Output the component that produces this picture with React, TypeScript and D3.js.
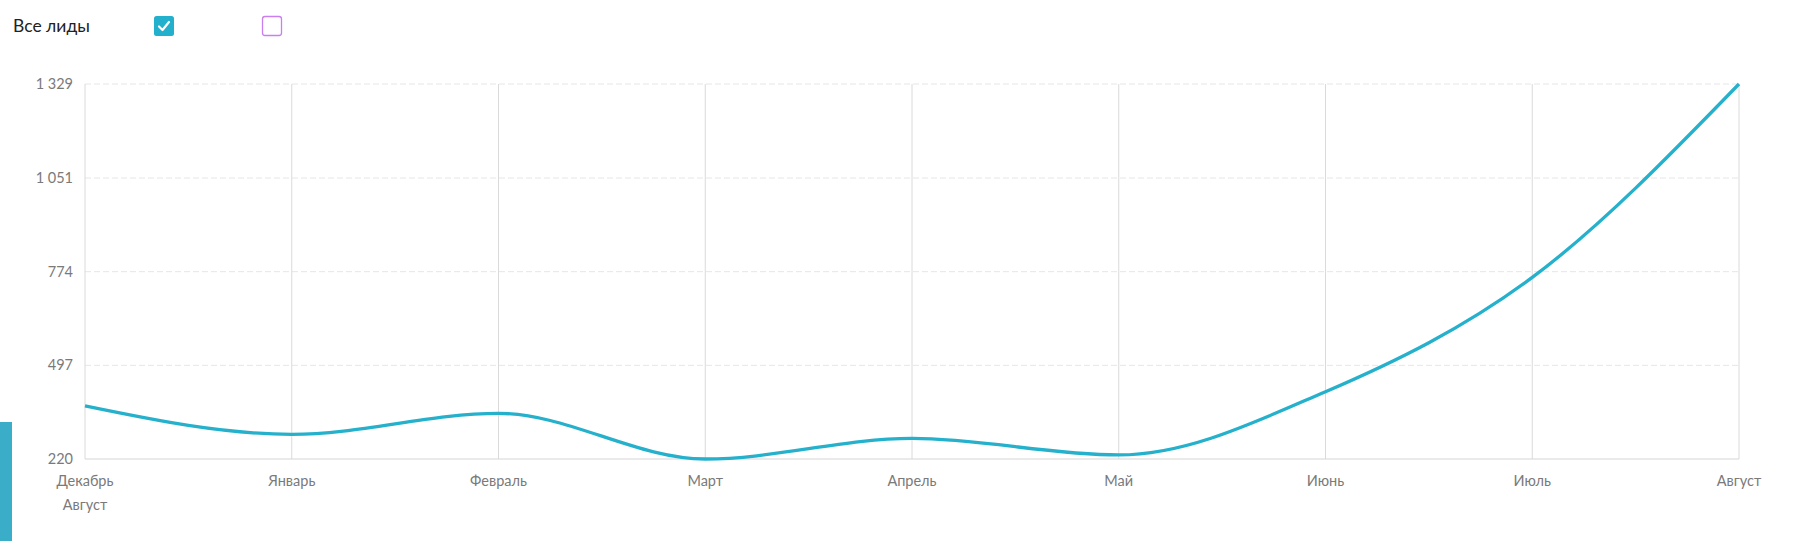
import React, { useRef, useEffect } from "react";
import * as d3 from "d3";

// Chart data
const months = [
  "Декабрь",
  "Январь",
  "Февраль",
  "Март",
  "Апрель",
  "Май",
  "Июнь",
  "Июль",
  "Август",
];
const leads = [377, 293, 355, 220, 281, 232, 419, 757, 1329];
const yTicks = [220, 497, 774, 1051, 1329];
const subLabel = "Август";

const App: React.FC = () => {
  const svgRef = useRef<SVGSVGElement>(null);

  useEffect(() => {
    const width = 1794;
    const height = 541;
    const left = 85;
    const right = 1739;
    const top = 84;
    const bottom = 459;
    const font = "Lato, 'Open Sans', sans-serif";

    const svg = d3
      .select(svgRef.current)
      .attr("width", width)
      .attr("height", height)
      .attr("viewBox", [0, 0, width, height])
      .style("font-family", font);

    svg.selectAll("*").remove();

    const x = d3
      .scalePoint<string>()
      .domain(months)
      .range([left, right]);
    const y = d3.scaleLinear().domain([220, 1329]).range([bottom, top]);

    const fmt = (v: number) => d3.format(",")(v).replace(/,/g, " ");

    // left accent bar
    svg
      .append("rect")
      .attr("x", 0)
      .attr("y", 422)
      .attr("width", 12)
      .attr("height", height - 422)
      .attr("fill", "#3aaec9");

    // legend
    svg
      .append("text")
      .attr("x", 13)
      .attr("y", 32)
      .attr("font-size", 17.5)
      .attr("fill", "#222")
      .text("Все лиды");

    svg
      .append("rect")
      .attr("x", 154)
      .attr("y", 16)
      .attr("width", 20)
      .attr("height", 20)
      .attr("rx", 2.5)
      .attr("fill", "#22b0cc");
    svg
      .append("path")
      .attr("d", "M159,26.5 L162.5,30 L169,22")
      .attr("fill", "none")
      .attr("stroke", "#fff")
      .attr("stroke-width", 2.2)
      .attr("stroke-linecap", "round")
      .attr("stroke-linejoin", "round");

    svg
      .append("rect")
      .attr("x", 262.5)
      .attr("y", 16.5)
      .attr("width", 19)
      .attr("height", 19)
      .attr("rx", 2.5)
      .attr("fill", "#fff")
      .attr("stroke", "#c97ff0")
      .attr("stroke-width", 1.3);

    // horizontal dashed grid
    svg
      .append("g")
      .selectAll("line")
      .data(yTicks.slice(1))
      .join("line")
      .attr("x1", left)
      .attr("x2", right)
      .attr("y1", (d) => y(d))
      .attr("y2", (d) => y(d))
      .attr("stroke", "#e6e6e6")
      .attr("stroke-width", 1)
      .attr("stroke-dasharray", "6 3");

    // vertical grid
    svg
      .append("g")
      .selectAll("line")
      .data(months)
      .join("line")
      .attr("x1", (d) => x(d)!)
      .attr("x2", (d) => x(d)!)
      .attr("y1", top)
      .attr("y2", bottom)
      .attr("stroke", "#dadada")
      .attr("stroke-width", 1);

    // bottom axis line
    svg
      .append("line")
      .attr("x1", left)
      .attr("x2", right)
      .attr("y1", bottom)
      .attr("y2", bottom)
      .attr("stroke", "#d6d6d6")
      .attr("stroke-width", 1.2);

    // y labels
    svg
      .append("g")
      .selectAll("text")
      .data(yTicks)
      .join("text")
      .attr("x", 73)
      .attr("y", (d) => y(d))
      .attr("dy", "0.35em")
      .attr("text-anchor", "end")
      .attr("font-size", 14.5)
      .attr("fill", "#7a7a7a")
      .text((d) => fmt(d));

    // x labels
    svg
      .append("g")
      .selectAll("text")
      .data(months)
      .join("text")
      .attr("x", (d) => x(d)!)
      .attr("y", 486)
      .attr("text-anchor", "middle")
      .attr("font-size", 14.5)
      .attr("fill", "#7a7a7a")
      .text((d) => d);

    svg
      .append("text")
      .attr("x", x(months[0])!)
      .attr("y", 510)
      .attr("text-anchor", "middle")
      .attr("font-size", 14.5)
      .attr("fill", "#7a7a7a")
      .text(subLabel);

    // series line
    const line = d3
      .line<number>()
      .x((_, i) => x(months[i])!)
      .y((d) => y(d))
      .curve(d3.curveMonotoneX);

    svg
      .append("path")
      .datum(leads)
      .attr("d", line)
      .attr("fill", "none")
      .attr("stroke", "#25b0cc")
      .attr("stroke-width", 3.3);
  }, []);

  return (
    <div style={{ position: "absolute", left: 0, top: 0 }}>
      <svg ref={svgRef} style={{ display: "block" }}></svg>
    </div>
  );
};

export default App;
